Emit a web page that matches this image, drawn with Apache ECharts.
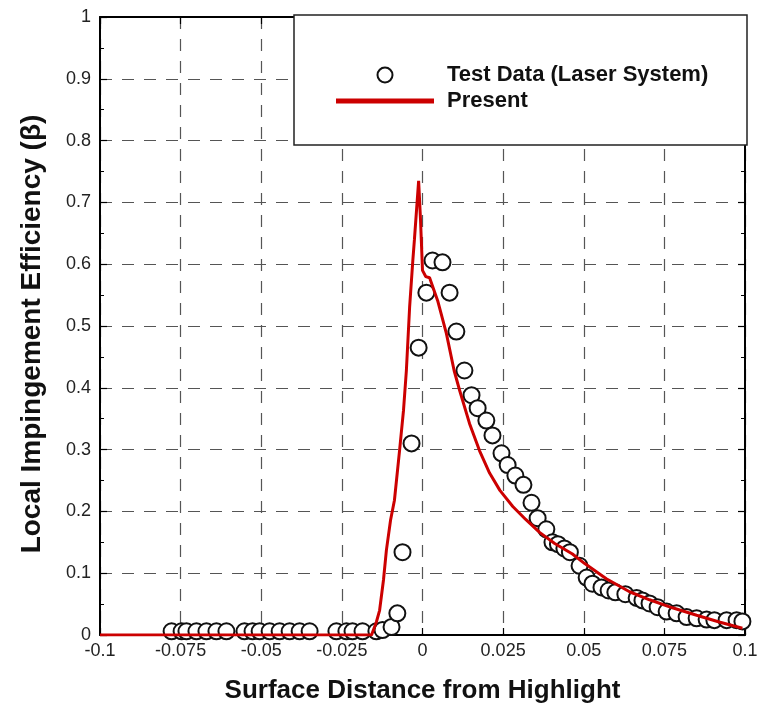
<!DOCTYPE html>
<html>
<head>
<meta charset="utf-8">
<script src="https://cdn.jsdelivr.net/npm/echarts@6/dist/echarts.min.js"></script>
<style>html,body{margin:0;padding:0;background:#fff}#c{width:763px;height:709px}</style>
</head>
<body>
<div id="c"></div>
<script>
// Test data (Laser System): [surface distance, beta]
const testData = [
  [-0.0778,0.006],[-0.0747,0.006],[-0.0732,0.006],[-0.0701,0.006],[-0.0670,0.006],
  [-0.0639,0.006],[-0.0608,0.006],[-0.0552,0.006],[-0.0527,0.006],[-0.0505,0.006],
  [-0.0474,0.006],[-0.0443,0.006],[-0.0412,0.006],[-0.0381,0.006],[-0.0350,0.006],
  [-0.0267,0.006],[-0.0236,0.006],[-0.0217,0.006],[-0.0186,0.006],[-0.0143,0.006],
  [-0.0124,0.008],[-0.0096,0.013],[-0.0078,0.035],[-0.0062,0.134],[-0.0034,0.310],
  [-0.0012,0.465],[0.0012,0.554],[0.0031,0.606],[0.0062,0.603],[0.0084,0.554],
  [0.0105,0.491],[0.0130,0.428],[0.0152,0.388],[0.0171,0.367],[0.0198,0.347],
  [0.0217,0.323],[0.0245,0.294],[0.0264,0.275],[0.0288,0.258],[0.0313,0.243],
  [0.0338,0.214],[0.0357,0.189],[0.0384,0.171],[0.0403,0.150],[0.0420,0.147],
  [0.0440,0.140],[0.0457,0.134],[0.0487,0.112],[0.0509,0.093],[0.0527,0.083],
  [0.0555,0.077],[0.0577,0.072],[0.0598,0.069],[0.0629,0.066],[0.0664,0.060],
  [0.0682,0.056],[0.0704,0.051],[0.0729,0.045],[0.0757,0.038],[0.0788,0.035],
  [0.0819,0.029],[0.0850,0.027],[0.0881,0.025],[0.0905,0.024],[0.0943,0.024],
  [0.0974,0.024],[0.0992,0.022]
];
// Present (computed): [surface distance, beta]
const presentData = [
  [-0.1,0],[-0.0158,0],[-0.0143,0.021],[-0.0133,0.040],[-0.0121,0.089],[-0.0112,0.137],
  [-0.0099,0.186],[-0.0087,0.218],[-0.0071,0.299],[-0.0059,0.363],[-0.0050,0.428],
  [-0.0040,0.530],[-0.0030,0.606],[-0.0025,0.640],[-0.0012,0.735],[-0.0006,0.670],
  [0.0000,0.590],[0.0010,0.580],[0.0022,0.578],[0.0047,0.541],[0.0074,0.488],
  [0.0098,0.428],[0.0115,0.396],[0.0146,0.342],[0.0177,0.298],[0.0208,0.262],
  [0.0240,0.234],[0.0280,0.208],[0.0320,0.187],[0.0363,0.166],[0.0410,0.148],
  [0.0465,0.131],[0.0502,0.116],[0.0570,0.091],[0.0642,0.070],[0.0704,0.057],
  [0.0775,0.044],[0.0850,0.032],[0.0920,0.021],[0.0992,0.011]
];
const xTickLabels = ['-0.1','-0.075','-0.05','-0.025','0','0.025','0.05','0.075','0.1'];
const yTickLabels = ['0','0.1','0.2','0.3','0.4','0.5','0.6','0.7','0.8','0.9','1'];
const seriesNames = ['Test Data (Laser System)','Present'];

const chart = echarts.init(document.getElementById('c'));
const X0 = -0.1, XI = 0.025, Y0 = 0, YI = 0.1;
const xLab = v => xTickLabels[Math.round((v - X0) / XI)] || '';
const yLab = v => yTickLabels[Math.round((v - Y0) / YI)] || '';
const FONT = 'Arial, "Liberation Sans", sans-serif';
const dash = {color:'#555', width:1.2, type:[12,10]};
chart.setOption({
  animation:false,
  backgroundColor:'#fff',
  grid: {left:100, right:18, top:17, bottom:74, outerBoundsMode:'none', containLabel:false},
  graphic: [{
    type:'rect', z:50,
    shape:{x:294, y:15, width:453, height:130},
    style:{fill:'#fff', stroke:'#222', lineWidth:1.5}
  }],
  legend: {
    z:60, orient:'vertical', left:331, top:59, itemGap:4,
    itemWidth:98, itemHeight:15,
    textStyle:{fontFamily:FONT, fontWeight:'bold', fontSize:22, color:'#111', padding:[0,0,0,8]},
    data:[
      {name:seriesNames[0], icon:'emptyCircle', itemStyle:{borderWidth:2, borderColor:'#111', color:'#111'}},
      {name:seriesNames[1], icon:'path://M0,0H100V5H0Z', itemStyle:{color:'#cc0000', borderWidth:0}}
    ]
  },
  xAxis: [{
    type:'value', min:-0.1, max:0.1, interval:0.025,
    name:'Surface Distance from Highlight', nameLocation:'middle', nameGap:43,
    nameTextStyle:{fontFamily:FONT, fontWeight:'bold', fontSize:26, color:'#111'},
    axisLine:{onZero:false, lineStyle:{color:'#000', width:2}},
    axisTick:{inside:true, length:7, lineStyle:{color:'#000', width:1.2}},
    axisLabel:{formatter:xLab, fontFamily:FONT, fontSize:18, color:'#222', margin:7},
    splitLine:{show:true, lineStyle:dash}
  },{
    type:'value', position:'top', min:-0.1, max:0.1, interval:0.025,
    axisLine:{show:true, onZero:false, lineStyle:{color:'#000', width:2}},
    axisTick:{show:true, inside:true, length:7, lineStyle:{color:'#000', width:1.2}},
    axisLabel:{show:false}, splitLine:{show:false}
  }],
  yAxis: [{
    type:'value', min:0, max:1, interval:0.1,
    name:'Local Impingement Efficiency (\u03b2)', nameLocation:'middle', nameGap:54,
    nameTextStyle:{fontFamily:FONT, fontWeight:'bold', fontSize:28, color:'#111', padding:[0,16,0,0]},
    axisLine:{show:true, onZero:false, lineStyle:{color:'#000', width:2}},
    axisTick:{show:true, inside:true, length:7, lineStyle:{color:'#000', width:1.2}},
    minorTick:{show:true, splitNumber:2, length:4, lineStyle:{color:'#000', width:1}},
    axisLabel:{formatter:yLab, fontFamily:FONT, fontSize:18, color:'#222', margin:9},
    splitLine:{show:true, lineStyle:dash}
  },{
    type:'value', position:'right', min:0, max:1, interval:0.1,
    axisLine:{show:true, onZero:false, lineStyle:{color:'#000', width:2}},
    axisTick:{show:true, inside:true, length:7, lineStyle:{color:'#000', width:1.2}},
    minorTick:{show:true, splitNumber:2, length:4, lineStyle:{color:'#000', width:1}},
    axisLabel:{show:false}, splitLine:{show:false}
  }],
  series: [{
    name:seriesNames[0], type:'scatter', data:testData,
    symbol:'emptyCircle', symbolSize:16, z:3,
    itemStyle:{borderColor:'#111', borderWidth:2, color:'#111', opacity:1}
  },{
    name:seriesNames[1], type:'line', data:presentData, symbol:'none', smooth:false, z:4,
    lineStyle:{color:'#cc0000', width:3}, itemStyle:{color:'#cc0000'}
  }]
});
</script>
</body>
</html>
